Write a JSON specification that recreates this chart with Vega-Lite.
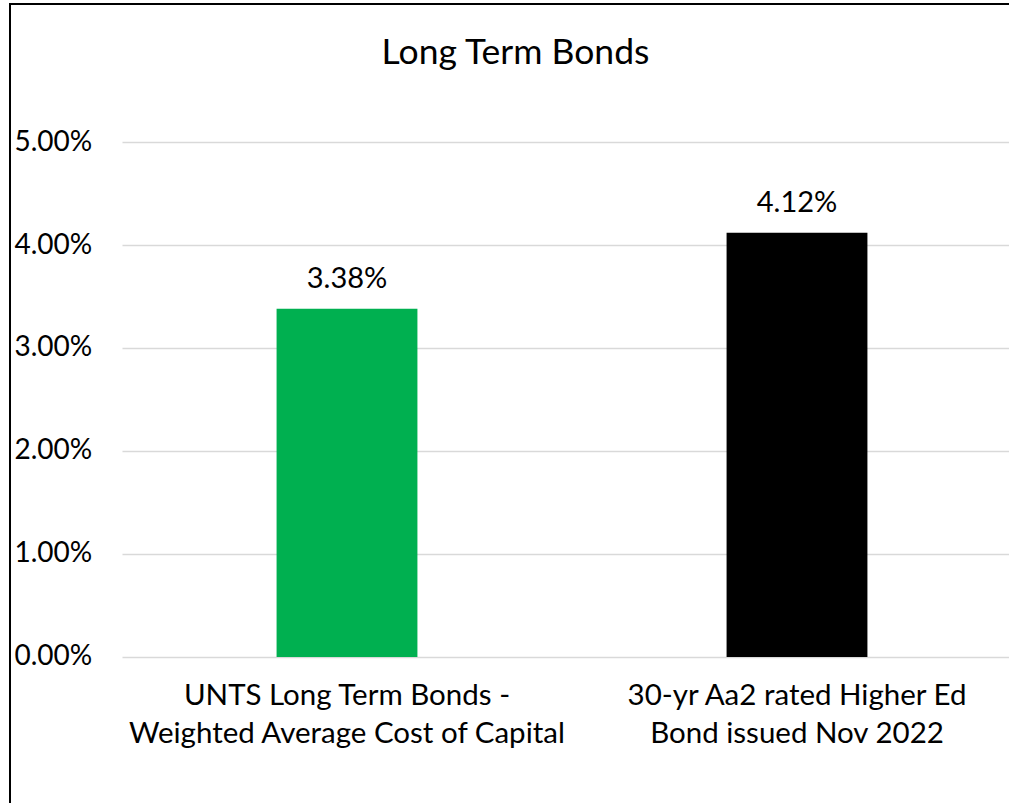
{
  "$schema": "https://vega.github.io/schema/vega-lite/v6.json",
  "autosize": "none",
  "width": 999,
  "height": 805,
  "padding": {"left": 10, "top": 4, "right": 0, "bottom": 0},
  "background": "white",
  "title": {
    "text": "Long Term Bonds",
    "font": "Lato",
    "fontSize": 35.5,
    "fontWeight": "normal",
    "color": "#000000",
    "anchor": "middle",
    "frame": "group",
    "baseline": "alphabetic",
    "offset": -58,
    "dy": 37,
    "dx": 6
  },
  "config": {
    "view": {"stroke": "#000000", "strokeWidth": 2, "strokeDash": [999, 1810, 805]},
    "font": "Lato"
  },
  "data": {
    "values": [
      {"category": "UNTS Long Term Bonds -\nWeighted Average Cost of Capital", "rate": 0.0338, "color": "green"},
      {"category": "30-yr Aa2 rated Higher Ed\nBond issued Nov 2022", "rate": 0.0412, "color": "black"}
    ]
  },
  "encoding": {
    "x": {
      "field": "category",
      "type": "nominal",
      "sort": null,
      "scale": {"range": [112, 1012], "paddingInner": 0.687, "paddingOuter": 0.3435},
      "axis": null
    }
  },
  "layer": [
    {
      "mark": {"type": "bar"},
      "encoding": {
        "y": {
          "field": "rate",
          "type": "quantitative",
          "scale": {"domain": [-0.01476, 0.0634], "nice": false, "zero": false},
          "axis": {
            "title": null,
            "values": [0, 0.01, 0.02, 0.03, 0.04, 0.05],
            "format": ".2%",
            "labelFont": "Lato",
            "labelFontSize": 28,
            "labelColor": "#000000",
            "labelAlign": "left",
            "labelPadding": -4,
            "ticks": false,
            "tickSize": 0,
            "domain": false,
            "grid": true,
            "gridColor": "#d9d9d9",
            "gridWidth": 1.5
          }
        },
        "y2": {"datum": 0},
        "color": {
          "field": "color",
          "type": "nominal",
          "scale": {"domain": ["green", "black"], "range": ["#00B050", "#000000"]},
          "legend": null
        }
      }
    },
    {
      "mark": {"type": "text", "font": "Lato", "fontSize": 29, "baseline": "alphabetic", "dy": -21, "color": "#000000"},
      "encoding": {
        "y": {"field": "rate", "type": "quantitative"},
        "text": {"field": "rate", "type": "quantitative", "format": ".2%"}
      }
    },
    {
      "mark": {"type": "text", "font": "Lato", "fontSize": 29.5, "baseline": "alphabetic", "lineBreak": "\n", "lineHeight": 38, "color": "#000000"},
      "encoding": {
        "y": {"datum": -0.00466},
        "text": {"field": "category", "type": "nominal"}
      }
    }
  ]
}
